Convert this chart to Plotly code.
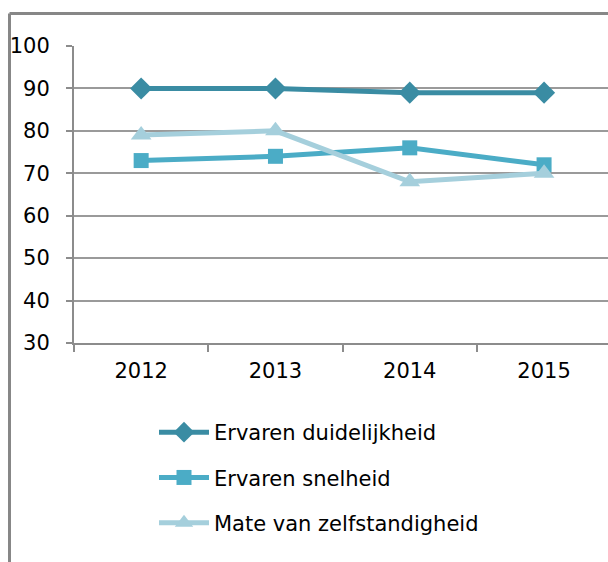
import plotly.graph_objects as go

years = ["2012", "2013", "2014", "2015"]
duidelijkheid = [90, 90, 89, 89]
snelheid = [73, 74, 76, 72]
zelfstandigheid = [79, 80, 68, 70]

names = ["Ervaren duidelijkheid", "Ervaren snelheid", "Mate van zelfstandigheid"]
colors = ["#3a8ca3", "#4bacc6", "#a5cfdc"]
symbols = ["diamond", "square", "triangle-up"]
sizes = [17, 15, 18]

W, H = 608, 562
L, R, T, B = 74, 0, 46, 219

fig = go.Figure()
for name, vals, c, s, sz in zip(names, [duidelijkheid, snelheid, zelfstandigheid], colors, symbols, sizes):
    fig.add_trace(go.Scatter(
        x=years, y=vals, name=name, mode="lines+markers",
        line=dict(color=c, width=5),
        marker=dict(symbol=s, size=sz, color=c),
        legendgroup=name,
    ))

pw = W - L - R
ph = H - T - B
def px_x(p):
    return (p - L) / pw
def px_y(p):
    return (H - B - p) / ph

# outer chart frame (partially visible)
fig.add_shape(type="line", xref="paper", yref="paper",
              x0=px_x(9.5), x1=px_x(620), y0=px_y(13.5), y1=px_y(13.5),
              line=dict(color="#878787", width=3))
fig.add_shape(type="line", xref="paper", yref="paper",
              x0=px_x(9.5), x1=px_x(9.5), y0=px_y(13.5), y1=px_y(600),
              line=dict(color="#878787", width=3))

fig.update_layout(
    width=W, height=H,
    margin=dict(l=L, r=R, t=T, b=B),
    paper_bgcolor="white", plot_bgcolor="white",
    font=dict(family="DejaVu Sans, Verdana, sans-serif", size=21, color="#000000"),
    showlegend=True,
    legend=dict(x=px_x(154), y=px_y(412), xanchor="left", yanchor="top",
                tracegroupgap=15, font=dict(size=21), itemwidth=50,
                bgcolor="rgba(0,0,0,0)"),
    xaxis=dict(
        showgrid=False, showline=True, linecolor="#8c8c8c", linewidth=2,
        ticks="outside", tickson="boundaries", ticklen=7, tickcolor="#8c8c8c", tickwidth=2,
        ticklabelstandoff=8, range=[-0.5, 3.476],
    ),
    yaxis=dict(
        range=[30, 100], dtick=10, tick0=30,
        showgrid=True, gridcolor="#9a9a9a", gridwidth=2,
        showline=True, linecolor="#8c8c8c", linewidth=2,
        ticks="outside", ticklen=6, tickcolor="#8c8c8c", tickwidth=2,
        ticklabelstandoff=12, zeroline=False,
    ),
)

fig.write_html("out.html", config={"displayModeBar": False},
               post_script="document.body.style.margin='0';document.body.style.overflow='hidden';")
